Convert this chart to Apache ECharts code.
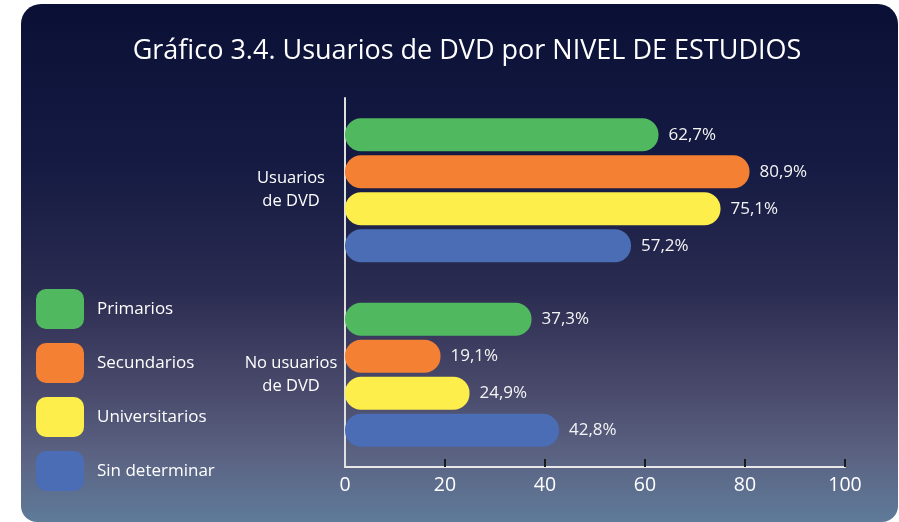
<!DOCTYPE html>
<html><head><meta charset="utf-8">
<script src="https://cdn.jsdelivr.net/npm/echarts@6/dist/echarts.min.js"></script>
<style>html,body{margin:0;padding:0;background:#fff;}#c{width:899px;height:522px;}</style>
</head><body><div id="c"></div>
<script>
const categories = ['Usuarios\nde DVD', 'No usuarios\nde DVD'];
const seriesNames = ['Primarios', 'Secundarios', 'Universitarios', 'Sin determinar'];
const primarios = [62.7, 37.3];
const secundarios = [80.9, 19.1];
const universitarios = [75.1, 24.9];
const sinDeterminar = [57.2, 42.8];
const xTicks = [0, 20, 40, 60, 80, 100];
const colors = ['#50b95f', '#f38033', '#fdee4b', '#4a6db5'];
const values = [primarios, secundarios, universitarios, sinDeterminar];

const FONT = "'Open Sans', 'Noto Sans', sans-serif";
const chart = echarts.init(document.getElementById('c'), null, {renderer: 'canvas'});
chart.setOption({
  backgroundColor: 'transparent',
  animation: false,
  graphic: [{
    type: 'rect', z: -10, silent: true,
    shape: {x: 21, y: 4, width: 877, height: 518, r: [20, 20, 16, 16]},
    style: {fill: new echarts.graphic.LinearGradient(0, 0, 0, 1, [
      {offset: 0, color: '#0a1035'},
      {offset: 0.3, color: '#141a42'},
      {offset: 0.55, color: '#2a2b50'},
      {offset: 0.75, color: '#4a4b6c'},
      {offset: 0.88, color: '#5c6484'},
      {offset: 1, color: '#5e7b99'}
    ])}
  }],
  title: {
    text: 'Gráfico 3.4. Usuarios de DVD por NIVEL DE ESTUDIOS',
    left: 462, top: 33, textAlign: 'center',
    textStyle: {color: '#ffffff', fontFamily: FONT, fontSize: 27, fontWeight: 'normal'}
  },
  legend: {
    orient: 'vertical', left: 36, top: 289, padding: 0, itemWidth: 48, itemHeight: 40, itemGap: 14,
    icon: 'roundRect',
    data: seriesNames,
    textStyle: {color: '#ffffff', fontFamily: FONT, fontSize: 17, padding: [0, 0, 0, 8]}
  },
  grid: {left: 345, right: 54, top: 98, bottom: 55, containLabel: false},
  xAxis: {
    type: 'value', min: 0, max: 100, interval: 20,
    axisLine: {show: true, lineStyle: {color: '#e8e8e8', width: 2}},
    axisTick: {show: true, inside: true, length: 8, customValues: [20, 40, 60, 80, 100], lineStyle: {color: '#1a1a1a', width: 2}},
    axisLabel: {color: '#ffffff', fontFamily: FONT, fontSize: 19.5, margin: 8,
      formatter: v => xTicks.includes(v) ? String(v) : ''},
    splitLine: {show: false}
  },
  yAxis: {
    type: 'category', data: categories, inverse: true,
    axisLine: {show: true, lineStyle: {color: '#e0e0e0', width: 2}},
    axisTick: {show: false},
    axisLabel: {color: '#ffffff', fontFamily: FONT, fontSize: 16.5, lineHeight: 23, align: 'center', margin: 54}
  },
  series: seriesNames.map((n, i) => ({
    name: n, type: 'bar', data: values[i], barWidth: 33, barGap: '12%',
    itemStyle: {color: colors[i], borderRadius: 16},
    label: {show: true, position: 'right', distance: 10, color: '#f4f4f4', fontFamily: FONT, fontSize: 17,
      formatter: p => p.value.toFixed(1).replace('.', ',') + '%'}
  }))
});
</script></body></html>
